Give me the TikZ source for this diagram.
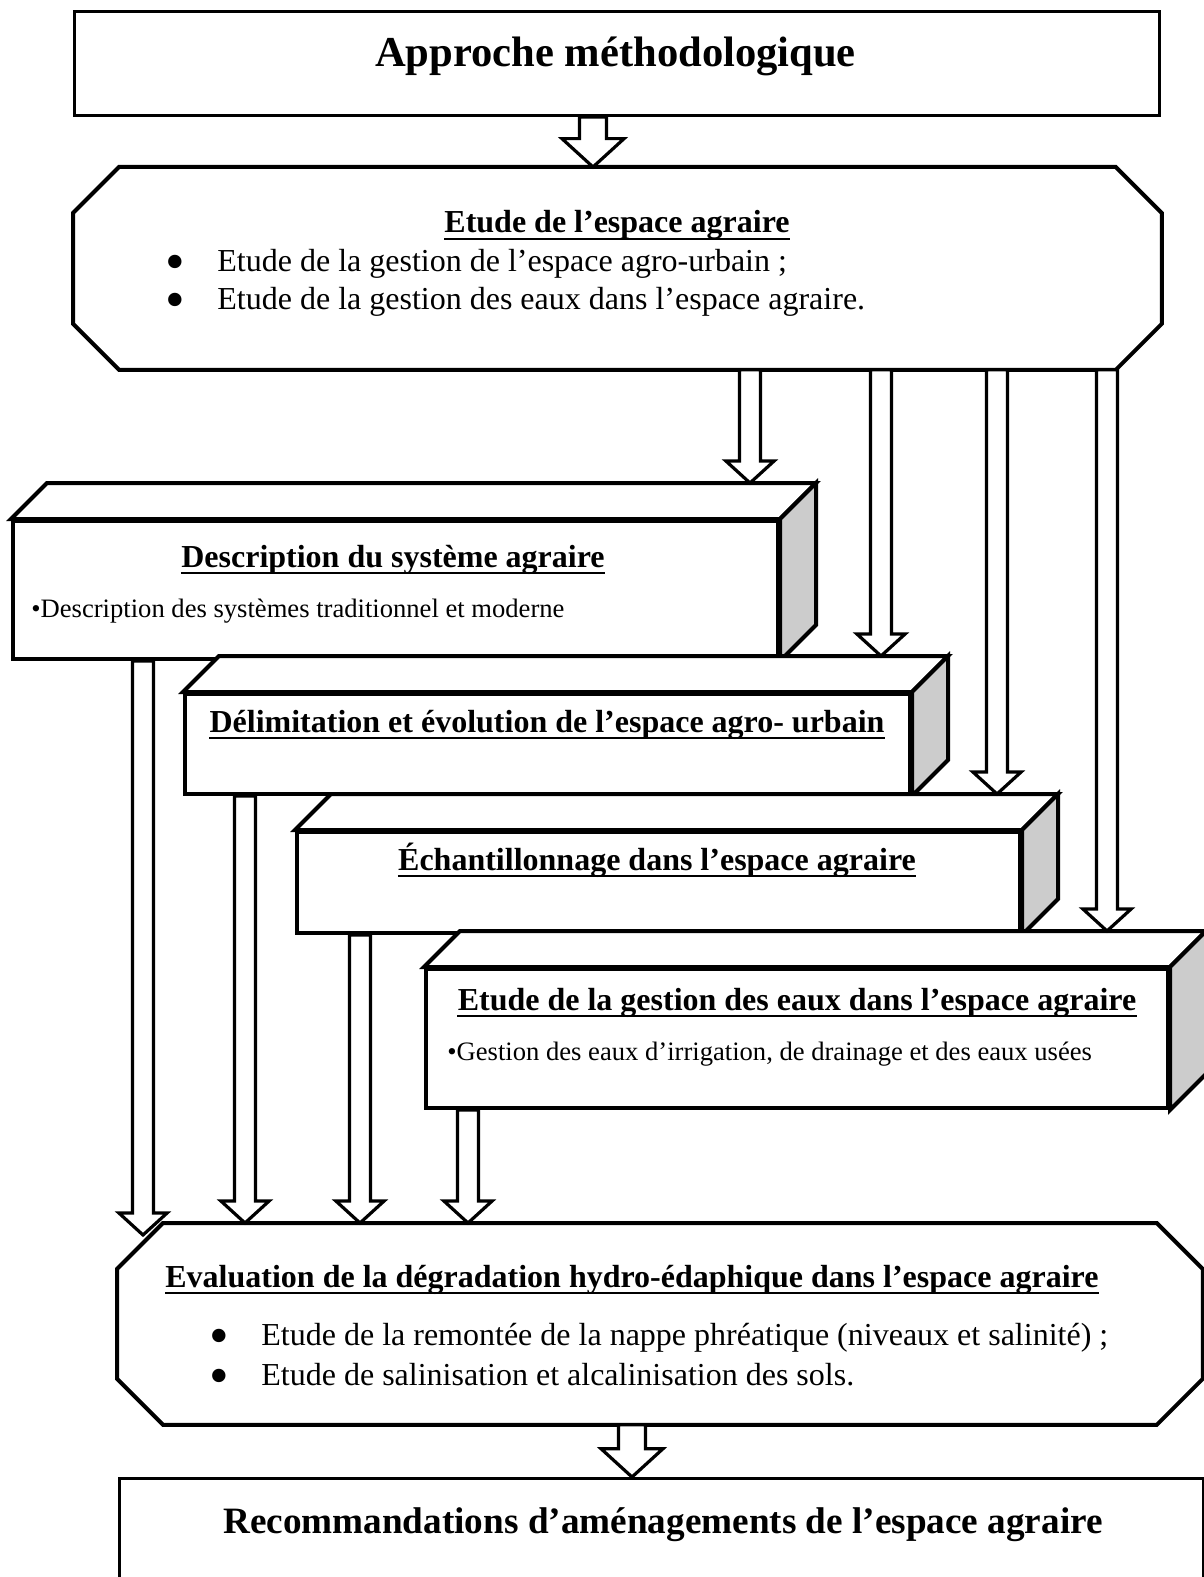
\documentclass[tikz,border=0pt]{standalone}
\usepackage{fontspec}
\setmainfont{Liberation Serif}
\usetikzlibrary{calc}

% octagon outline drawn on the corners of a named node
\newcommand\octpath[1]{%
  \draw[octline] ([xshift=23pt]#1.north west) -- ([xshift=-23pt]#1.north east)
    -- ([yshift=-23pt]#1.north east) -- ([yshift=23pt]#1.south east)
    -- ([xshift=-23pt]#1.south east) -- ([xshift=23pt]#1.south west)
    -- ([yshift=23pt]#1.south west) -- ([yshift=-23pt]#1.north west) -- cycle;}
% top and side faces of a 3D box
\newcommand\boxfaces[1]{%
  \draw[topface] (#1.north west) -- ([shift={(18pt,18pt)}]#1.north west)
    -- ([shift={(18pt,18pt)}]#1.north east) -- (#1.north east) -- cycle;
  \draw[sideface] (#1.north east) -- ([shift={(18pt,18pt)}]#1.north east)
    -- ([shift={(18pt,18pt)}]#1.south east) -- (#1.south east) -- cycle;
  \coordinate (#1back) at ([yshift=18pt]#1.north);}
% underline under a heading node
\newcommand\underl[1]{%
  \draw[ulline] ([yshift=-3pt]#1.base west) -- ([yshift=-3pt]#1.base east);}
% hollow block arrow: [half shaft]{x}{from}{to}
\newcommand\fatarrow[4][5.25]{%
  \draw[fatarr] let \p0=(#2,0), \p1=(#3), \p2=(#4) in
    (\x0-#1pt,\y1) -- (\x0-#1pt,\y2+2.1*#1pt) -- (\x0-2.3*#1pt,\y2+2.1*#1pt)
    -- (\x0,\y2) -- (\x0+2.3*#1pt,\y2+2.1*#1pt) -- (\x0+#1pt,\y2+2.1*#1pt)
    -- (\x0+#1pt,\y1) -- cycle;}

\begin{document}
\begin{tikzpicture}[x=0.5pt, y=-0.5pt,
  plainbox/.style={draw, line width=1.5pt, fill=white, inner sep=0pt, anchor=north west},
  octnode/.style={inner sep=0pt, anchor=north west},
  frontbox/.style={draw, line width=2pt, fill=white, inner sep=0pt, anchor=north west},
  topface/.style={line width=2pt, fill=white},
  sideface/.style={line width=2pt, fill=black!20},
  octline/.style={line width=2pt, fill=white},
  fatarr/.style={line width=1.6pt, fill=white},
  ulline/.style={line width=1.3pt},
  headtxt/.style={font=\bfseries\fontsize{16}{19}\selectfont, inner sep=0pt, anchor=base},
  bodytxt/.style={font=\fontsize{16}{19}\selectfont, inner sep=0pt, anchor=base west},
  smalltxt/.style={font=\fontsize{13.3}{16}\selectfont, inner sep=0pt, anchor=base west},
  bulletmark/.style={font=\fontsize{28}{30}\selectfont, inner sep=0pt, anchor=base}
]
\useasboundingbox[fill=white] (0,0) rectangle (1203,1577);
%% Title box
\node[plainbox, minimum width=542.5pt, minimum height=52pt] (app) at (73,10) {};
\node[headtxt, font=\bfseries\fontsize{21.3}{25}\selectfont] (apptxt) at (615.5,67) {Approche méthodologique};
%% Octagon: espace agraire
\node[octnode, minimum width=544pt, minimum height=101pt] (oct1) at (73,167) {};
\octpath{oct1}
\node[headtxt] (oct1h) at (617,233) {Etude de l’espace agraire};
\underl{oct1h}
\node[bulletmark] (oct1b1) at (175,281) {\smash{\textbullet}};
\node[bodytxt] (oct1t1) at (217,272) {Etude de la gestion de l’espace agro-urbain ;};
\node[bulletmark] (oct1b2) at (175,319) {\smash{\textbullet}};
\node[bodytxt] (oct1t2) at (217,310) {Etude de la gestion des eaux dans l’espace agraire.};
%% 3D boxes
\node[frontbox, minimum width=382.5pt, minimum height=69pt] (b1) at (11,519) {};
\boxfaces{b1}
\node[headtxt] (b1h) at (393,567) {Description du système agraire};
\underl{b1h}
\node[smalltxt] (b1t) at (31,617) {\textbullet Description des systèmes traditionnel et moderne};
\node[frontbox, minimum width=362.5pt, minimum height=50pt] (b2) at (183,692) {};
\boxfaces{b2}
\node[headtxt] (b2h) at (547,732) {Délimitation et évolution de l’espace agro- urbain};
\underl{b2h}
\node[frontbox, minimum width=361.5pt, minimum height=50.5pt] (b3) at (295,830) {};
\boxfaces{b3}
\node[headtxt] (b3h) at (657,870) {Échantillonnage dans l’espace agraire};
\underl{b3h}
\node[frontbox, minimum width=371pt, minimum height=69.5pt] (b4) at (424,967) {};
\boxfaces{b4}
\node[headtxt] (b4h) at (797,1010) {Etude de la gestion des eaux dans l’espace agraire};
\underl{b4h}
\node[smalltxt] (b4t) at (447,1060) {\textbullet Gestion des eaux d’irrigation, de drainage et des eaux usées};
%% Octagon: evaluation
\node[octnode, minimum width=542.5pt, minimum height=100.5pt] (oct2) at (117,1223) {};
\octpath{oct2}
\node[headtxt, anchor=base west] (oct2h) at (165,1287) {Evaluation de la dégradation hydro-édaphique dans l’espace agraire};
\underl{oct2h}
\node[bulletmark] (oct2b1) at (219,1354) {\smash{\textbullet}};
\node[bodytxt] (oct2t1) at (261,1345) {Etude de la remontée de la nappe phréatique (niveaux et salinité) ;};
\node[bulletmark] (oct2b2) at (219,1394) {\smash{\textbullet}};
\node[bodytxt] (oct2t2) at (261,1385) {Etude de salinisation et alcalinisation des sols.};
%% Recommendations box
\node[plainbox, line width=1.3pt, minimum width=542pt, minimum height=65pt] (rec) at (118,1477) {};
\node[headtxt, font=\bfseries\fontsize{18.6}{22}\selectfont] (rectxt) at (663,1533) {Recommandations d’aménagements de l’espace agraire};
%% Block arrows
\fatarrow[6.75]{593}{app.south}{oct1.north}
\fatarrow{750}{oct1.south}{b1back}
\fatarrow{881}{oct1.south}{b2back}
\fatarrow{997}{oct1.south}{b3back}
\fatarrow{1107}{oct1.south}{b4back}
\fatarrow{143}{b1.south}{[yshift=-6pt]oct2.north}
\fatarrow{245}{b2.south}{oct2.north}
\fatarrow{360}{b3.south}{oct2.north}
\fatarrow{468}{b4.south}{oct2.north}
\fatarrow[6.75]{632}{oct2.south}{rec.north}
\end{tikzpicture}
\end{document}
